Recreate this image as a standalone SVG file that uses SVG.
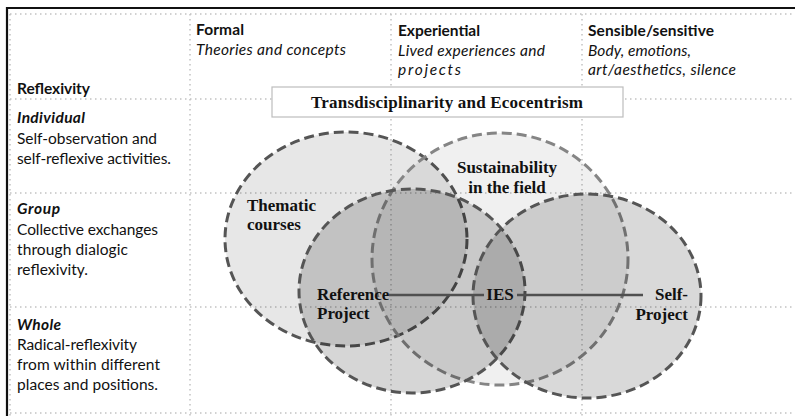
<svg xmlns="http://www.w3.org/2000/svg" width="795" height="416" viewBox="0 0 795 416">
  <style>
    .grid { stroke: #c2c2c2; stroke-width: 1.5; stroke-dasharray: 1.5 3.5; fill: none; }
    .frame { stroke: #111; stroke-width: 2.2; fill: none; }
    .ell { stroke-width: 3; stroke-dasharray: 10 5; }
    .dark { stroke: #555; }
    .mid { stroke: #858585; }
    .sans { font-family: Lato, "Open Sans", sans-serif; font-size: 15.5px; fill: #111; }
    .b { font-weight: bold; }
    .i { font-style: italic; }
    .serif { font-family: "Liberation Serif", "Times New Roman", serif; font-weight: bold; font-size: 17px; fill: #111; }
    .conn { stroke: #505050; stroke-width: 2.5; fill: none; }
  </style>

  <rect x="0" y="0" width="795" height="416" fill="#ffffff"/>

  <g id="grid">
    <line class="grid" x1="10" y1="14" x2="795" y2="14"/>
    <line class="grid" x1="10" y1="99" x2="795" y2="99"/>
    <line class="grid" x1="10" y1="193" x2="795" y2="193"/>
    <line class="grid" x1="10" y1="307" x2="795" y2="307"/>
    <line class="grid" x1="10" y1="413" x2="795" y2="413"/>
    <line class="grid" x1="10" y1="14" x2="10" y2="416"/>
    <line class="grid" x1="190" y1="14" x2="190" y2="416"/>
    <line class="grid" x1="391" y1="14" x2="391" y2="416"/>
    <line class="grid" x1="582" y1="14" x2="582" y2="416"/>
  </g>
  <g id="frame">
    <polyline class="frame" points="7,416 7,8 795,8"/>
  </g>

  <g id="thematic-courses">
    <ellipse class="ell dark" cx="346" cy="239" rx="121" ry="107" fill="#000" fill-opacity="0.095"/>
    <text class="serif" x="247" y="211">Thematic</text>
    <text class="serif" x="247" y="230">courses</text>
  </g>
  <g id="sustainability-in-the-field">
    <ellipse class="ell mid" cx="500" cy="259" rx="128" ry="126" fill="#000" fill-opacity="0.06"/>
    <text class="serif" x="507" y="173" text-anchor="middle">Sustainability</text>
    <text class="serif" x="507" y="193" text-anchor="middle">in the field</text>
  </g>
  <g id="reference-project">
    <ellipse class="ell dark" cx="412" cy="291" rx="113" ry="102" fill="#000" fill-opacity="0.16"/>
    <text class="serif" x="317" y="300">Reference</text>
    <text class="serif" x="317" y="319">Project</text>
  </g>
  <g id="self-project">
    <ellipse class="ell dark" cx="587" cy="296" rx="114" ry="102" fill="#000" fill-opacity="0.15"/>
    <text class="serif" x="688" y="300" text-anchor="end">Self-</text>
    <text class="serif" x="688" y="320" text-anchor="end">Project</text>
  </g>
  <g id="ies">
    <text class="serif" x="500" y="300" text-anchor="middle">IES</text>
  </g>

  <g id="connectors">
    <line class="conn" x1="389" y1="295" x2="484" y2="295"/>
    <line class="conn" x1="517" y1="295" x2="643" y2="295"/>
  </g>

  <g id="transdisciplinarity">
    <rect x="272" y="87" width="351" height="30" fill="#ffffff" stroke="#bdbdbd" stroke-width="1.2"/>
    <text class="serif" x="447" y="108" text-anchor="middle" textLength="272">Transdisciplinarity and Ecocentrism</text>
  </g>

  <g id="col-formal">
    <text class="sans b" x="196" y="35" textLength="48">Formal</text>
    <text class="sans i" x="196" y="55" textLength="150">Theories and concepts</text>
  </g>
  <g id="col-experiential">
    <text class="sans b" x="398" y="36" textLength="82">Experiential</text>
    <text class="sans i" x="398" y="56" textLength="147">Lived experiences and</text>
    <text class="sans i" x="398" y="75" textLength="63">projects</text>
  </g>
  <g id="col-sensible">
    <text class="sans b" x="588" y="36" textLength="126">Sensible/sensitive</text>
    <text class="sans i" x="588" y="56" textLength="103">Body, emotions,</text>
    <text class="sans i" x="588" y="75" textLength="148">art/aesthetics, silence</text>
  </g>

  <g id="row-reflexivity">
    <text class="sans b" x="17" y="94" textLength="73">Reflexivity</text>
  </g>
  <g id="row-individual">
    <text class="sans b i" x="17" y="123" textLength="68">Individual</text>
    <text class="sans" x="17" y="144" textLength="140">Self-observation and</text>
    <text class="sans" x="17" y="164" textLength="154">self-reflexive activities.</text>
  </g>
  <g id="row-group">
    <text class="sans b i" x="17" y="214" textLength="43">Group</text>
    <text class="sans" x="17" y="235" textLength="141">Collective exchanges</text>
    <text class="sans" x="17" y="255" textLength="111">through dialogic</text>
    <text class="sans" x="17" y="275" textLength="71">reflexivity.</text>
  </g>
  <g id="row-whole">
    <text class="sans b i" x="17" y="330" textLength="44">Whole</text>
    <text class="sans" x="17" y="350" textLength="120">Radical-reflexivity</text>
    <text class="sans" x="17" y="370" textLength="143">from within different</text>
    <text class="sans" x="17" y="390" textLength="141">places and positions.</text>
  </g>
</svg>
